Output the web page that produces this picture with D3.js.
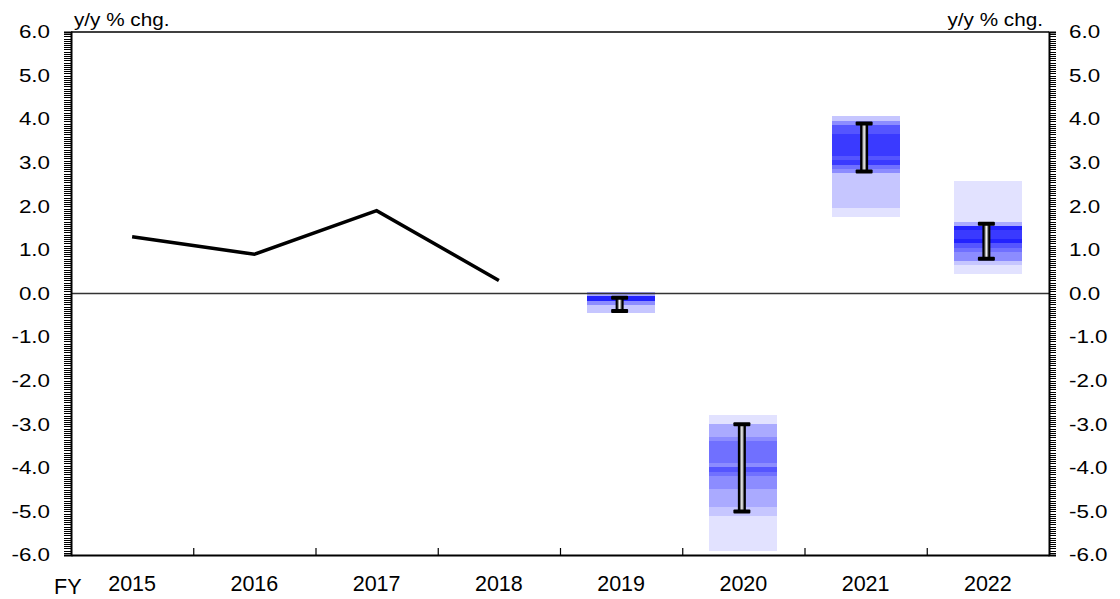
<!DOCTYPE html>
<html>
<head>
<meta charset="utf-8">
<script src="https://cdn.jsdelivr.net/npm/d3@7"></script>
<style>
html,body{margin:0;padding:0;background:#fff;}
svg{display:block;font-family:"Liberation Sans",Arial,sans-serif;}
</style>
</head>
<body>
<svg id="chart" width="1120" height="599"></svg>
<script>
// ---- data ----
const years = ["2015","2016","2017","2018","2019","2020","2021","2022"];
const actualYears = ["2015","2016","2017","2018"];
const actualValues = [1.3, 0.9, 1.9, 0.3];
const fanYears = ["2019","2020","2021","2022"];
const fanBounds2019 = [0.04, -0.05, -0.17, -0.26, -0.45];
const fanShades2019 = [2, 7, 3, 1];
const fanBounds2020 = [-2.79, -2.99, -3.29, -3.38, -3.88, -3.99, -4.09, -4.18, -4.49, -4.89, -5.10, -5.90];
const fanShades2020 = [0, 2, 3, 4, 3, 5, 4, 3, 2, 1, 0];
const fanBounds2021 = [4.08, 3.96, 3.87, 3.66, 3.16, 3.06, 2.95, 2.86, 2.77, 1.97, 1.76];
const fanShades2021 = [1, 3, 5, 6, 5, 6, 4, 3, 1, 0];
const fanBounds2022 = [2.57, 1.65, 1.56, 1.46, 1.25, 1.15, 1.05, 0.96, 0.75, 0.65, 0.45];
const fanShades2022 = [0, 2, 7, 6, 7, 5, 4, 3, 1, 0];
const rangeHigh = [-0.1, -3.0, 3.9, 1.6];
const rangeLow = [-0.4, -5.0, 2.8, 0.8];
const yTicks = [-6, -5, -4, -3, -2, -1, 0, 1, 2, 3, 4, 5, 6];
const unitLabel = "y/y % chg.";
const fyLabel = "FY";
const shadeColors = ["#e2e2ff", "#c6c6ff", "#aaaaff", "#8c8cff", "#7070ff", "#5555ff", "#3a3aff", "#2222ff"];

const fans = [
  {year: fanYears[0], bounds: fanBounds2019, shades: fanShades2019},
  {year: fanYears[1], bounds: fanBounds2020, shades: fanShades2020},
  {year: fanYears[2], bounds: fanBounds2021, shades: fanShades2021},
  {year: fanYears[3], bounds: fanBounds2022, shades: fanShades2022}
];

// ---- layout ----
const L = 71, R = 1049, T = 32, B = 555;
const svg = d3.select("#chart");
const x = d3.scaleBand().domain(years).range([L, R]);
const y = d3.scaleLinear().domain([-6, 6]).range([B, T]);
const cx = d => x(d) + x.bandwidth() / 2;
const fmt = d => d3.format(".1f")(d).replace("\u2212", "-");

const defs = svg.append("defs");
const grad = defs.append("linearGradient").attr("id", "wg").attr("x1", "0").attr("x2", "1").attr("y1", "0").attr("y2", "0");
[[0,"#000"],[0.2,"#000"],[0.32,"#777"],[0.5,"#fff"],[0.68,"#777"],[0.8,"#000"],[1,"#000"]]
  .forEach(([o,c]) => grad.append("stop").attr("offset", o).attr("stop-color", c));

// fan boxes
const boxW = x.bandwidth() * 0.555;
fans.forEach(f => {
  const segs = f.shades.map((s, i) => ({top: f.bounds[i], bot: f.bounds[i + 1], s}));
  svg.append("g").selectAll("rect").data(segs).join("rect")
    .attr("x", cx(f.year) - boxW / 2)
    .attr("width", boxW)
    .attr("y", d => y(d.top))
    .attr("height", d => y(d.bot) - y(d.top))
    .attr("fill", d => shadeColors[d.s])
    .attr("shape-rendering", "crispEdges");
});

// zero line
svg.append("line").attr("x1", L).attr("x2", R).attr("y1", y(0)).attr("y2", y(0))
  .attr("stroke", "#333").attr("stroke-width", 1.5);

// whiskers
fanYears.forEach((yr, i) => {
  const xc = cx(yr) - 1.5;
  const g = svg.append("g");
  g.append("rect").attr("x", xc - 4).attr("width", 8)
    .attr("y", y(rangeHigh[i])).attr("height", y(rangeLow[i]) - y(rangeHigh[i]))
    .attr("fill", "url(#wg)");
  [rangeHigh[i], rangeLow[i]].forEach(v => {
    g.append("rect").attr("x", xc - 8.5).attr("width", 17)
      .attr("y", y(v) - 2).attr("height", 4).attr("rx", 1).attr("fill", "#000");
  });
});

// actual line
const line = d3.line().x((d, i) => cx(actualYears[i])).y(d => y(d));
svg.append("path").datum(actualValues).attr("d", line)
  .attr("fill", "none").attr("stroke", "#000").attr("stroke-width", 3.5).attr("stroke-linejoin", "miter");

// axes
const minor = d3.range(-6, 6.0001, 0.05);
svg.append("g").attr("transform", `translate(${L},0)`)
  .call(d3.axisLeft(y).tickValues(minor).tickSize(7).tickFormat(""))
  .call(g => g.select(".domain").attr("stroke-width", 2))
  .call(g => g.selectAll(".tick line").attr("stroke-width", 1).attr("shape-rendering", "crispEdges"));
svg.append("g").attr("transform", `translate(${R},0)`)
  .call(d3.axisRight(y).tickValues(minor).tickSize(7).tickFormat(""))
  .call(g => g.select(".domain").attr("stroke-width", 2))
  .call(g => g.selectAll(".tick line").attr("stroke-width", 1).attr("shape-rendering", "crispEdges"));
// top border
svg.append("line").attr("x1", L).attr("x2", R).attr("y1", T).attr("y2", T).attr("stroke", "#000").attr("stroke-width", 1.5);
// bottom axis
const bounds = years.slice(1).map(d => x(d));
svg.append("g").attr("transform", `translate(0,${B})`)
  .call(d3.axisBottom(d3.scaleLinear().domain([L, R]).range([L, R])).tickValues(bounds).tickSize(-7).tickFormat("").tickSizeOuter(0))
  .call(g => g.select(".domain").attr("stroke-width", 2))
  .call(g => g.selectAll(".tick line").attr("stroke-width", 1.2));

// y labels
const sx = 1.28;
svg.append("g").selectAll("text").data(yTicks).join("text")
  .attr("transform", d => `translate(50,${y(d) + 6.3}) scale(${sx},1)`)
  .attr("text-anchor", "end").attr("font-size", 17.5).attr("fill", "#000")
  .text(d => fmt(d));
svg.append("g").selectAll("text").data(yTicks).join("text")
  .attr("transform", d => `translate(1069,${y(d) + 6.3}) scale(${sx},1)`)
  .attr("text-anchor", "start").attr("font-size", 17.5).attr("fill", "#000")
  .text(d => fmt(d));

// unit labels
svg.append("text").attr("transform", "translate(74,26) scale(1.12,1)")
  .attr("font-size", 18.5).text(unitLabel);
svg.append("text").attr("transform", "translate(1043,26) scale(1.12,1)")
  .attr("font-size", 18.5).attr("text-anchor", "end").text(unitLabel);

// x labels
svg.append("g").selectAll("text").data(years).join("text")
  .attr("x", d => cx(d)).attr("y", 591)
  .attr("text-anchor", "middle").attr("font-size", 21.5).text(d => d);
svg.append("text").attr("x", 54).attr("y", 594).attr("font-size", 21.5).text(fyLabel);
</script>
</body>
</html>
